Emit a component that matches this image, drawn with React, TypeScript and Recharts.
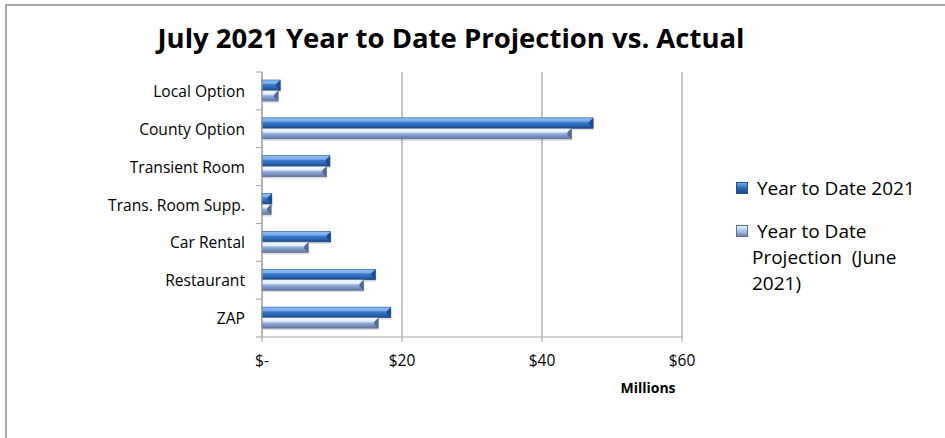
import React from "react";
import { Bar, BarChart, CartesianGrid, Legend, XAxis, YAxis } from "recharts";

const categories = [
  "Local Option",
  "County Option",
  "Transient Room",
  "Trans. Room Supp.",
  "Car Rental",
  "Restaurant",
  "ZAP",
];
const ytd2021 = [2.6, 47.3, 9.7, 1.4, 9.8, 16.2, 18.4];
const projectionJune = [2.3, 44.2, 9.2, 1.3, 6.6, 14.5, 16.6];
const xTicks = [0, 20, 40, 60];

const seriesNames = ["Year to Date 2021", "Year to Date Projection  (June 2021)"];
// legend text wraps like the Excel original
const legendLines = [[" Year to Date 2021"], [" Year to Date", "Projection  (June", "2021)"]];

const W = 945;
const H = 438;
const M = { top: 72, right: 263, bottom: 60, left: 0 };
const X_AXIS_H = 41;
const PLOT_H = H - M.top - M.bottom - X_AXIS_H;
const BAND = PLOT_H / categories.length;
const FONT = "'Open Sans', Lato, sans-serif";
const AXIS = "#a0a0a0";

const data = categories.map((name, i) => ({
  name,
  ytd: ytd2021[i],
  proj: projectionJune[i],
}));

function fmtMoney(v: number) {
  return v === 0 ? "$-" : `$${v}`;
}

function CategoryTick(props: any) {
  const { x, y, payload, index } = props;
  const axisX = x + 17;
  const last = index === categories.length - 1;
  return (
    <g>
      <text x={x} y={y} textAnchor="end" dominantBaseline="central" fontSize={15.6} fill="#000" fontFamily={FONT}>
        {payload.value}
      </text>
      <line x1={axisX - 6} x2={axisX} y1={y - BAND / 2} y2={y - BAND / 2} stroke={AXIS} />
      {last && <line x1={axisX - 6} x2={axisX} y1={y + BAND / 2} y2={y + BAND / 2} stroke={AXIS} />}
    </g>
  );
}

function bevelBar(edge: string, shine: string) {
  return (props: any) => {
    const { x, y, width, height, fill } = props;
    if (!width || width <= 0) return <g />;
    const c = Math.min(4, width / 2);
    return (
      <g>
        <rect x={x + 1} y={y + 2} width={width} height={height} fill="rgba(0,0,0,0.12)" />
        <rect x={x} y={y} width={width} height={height} fill={fill} />
        <polygon
          points={`${x + width - c},${y + c} ${x + width},${y} ${x + width},${y + height} ${x + width - c},${y + height - c}`}
          fill={edge}
        />
        <polygon points={`${x},${y} ${x + width},${y} ${x + width - c},${y + c} ${x},${y + c}`} fill={shine} opacity={0.55} />
        <rect x={x} y={y} width={width} height={height} fill="none" stroke={edge} strokeWidth={0.6} />
      </g>
    );
  };
}

function LegendBox() {
  const markers = [
    { bg: "linear-gradient(#6ea6ea, #2c63b0 55%, #1f4c8c)", border: "#214f8e" },
    { bg: "linear-gradient(#e2f2ff, #a9c5ec 50%, #6f86b6)", border: "#5b6f99" },
  ];
  return (
    <div style={{ fontFamily: FONT, fontSize: 19, color: "#000", lineHeight: "26px" }}>
      {seriesNames.map((name, i) => (
        <div key={name} title={name} style={{ position: "relative", height: legendLines[i].length * 26, marginBottom: 17 }}>
          <span
            style={{
              position: "absolute",
              left: 0,
              top: 7,
              width: 10,
              height: 10,
              background: markers[i].bg,
              border: `1px solid ${markers[i].border}`,
            }}
          />
          <div style={{ position: "absolute", left: 16, top: 0, whiteSpace: "pre" }}>
            {legendLines[i].map((ln) => (
              <div key={ln}>{ln}</div>
            ))}
          </div>
        </div>
      ))}
    </div>
  );
}

export default function App() {
  return (
    <div style={{ position: "absolute", left: 0, top: 0, width: W, height: H, background: "#fff", overflow: "hidden" }}>
      <div
        style={{
          position: "absolute",
          left: 5,
          top: 4,
          width: W,
          height: H,
          borderTop: "2px solid #a6a6a6",
          borderLeft: "2px solid #a6a6a6",
        }}
      />
      <div
        style={{
          position: "absolute",
          left: 0,
          top: 19,
          width: 902,
          textAlign: "center",
          fontFamily: FONT,
          fontWeight: 700,
          fontSize: 27.5,
          color: "#000",
        }}
      >
        July 2021 Year to Date Projection vs. Actual
      </div>
      <div style={{ position: "absolute", left: 0, top: 0 }}>
        <BarChart width={W} height={H} data={data} layout="vertical" margin={M} barGap={0} barSize={10.5}>
          <defs>
            <linearGradient id="ytdGrad" x1="0" y1="0" x2="0" y2="1">
              <stop offset="0%" stopColor="#7db3f0" />
              <stop offset="22%" stopColor="#4a89d8" />
              <stop offset="65%" stopColor="#2f6cbf" />
              <stop offset="100%" stopColor="#1c4784" />
            </linearGradient>
            <linearGradient id="projGrad" x1="0" y1="0" x2="0" y2="1">
              <stop offset="0%" stopColor="#eaf6ff" />
              <stop offset="35%" stopColor="#c2dcf8" />
              <stop offset="55%" stopColor="#8fa8d6" />
              <stop offset="100%" stopColor="#5f76a6" />
            </linearGradient>
          </defs>
          <CartesianGrid horizontal={false} stroke={AXIS} strokeWidth={1.2} />
          <XAxis
            type="number"
            domain={[0, 60]}
            ticks={xTicks}
            tickFormatter={fmtMoney}
            height={X_AXIS_H}
            stroke={AXIS}
            tickSize={5}
            tickMargin={13}
            tick={{ fill: "#000", fontSize: 15.5, fontFamily: FONT }}
            label={{
              value: "Millions",
              position: "bottom",
              offset: 5,
              dx: 176,
              style: { fill: "#000", fontSize: 14, fontWeight: 700, fontFamily: FONT },
            }}
          />
          <YAxis
            type="category"
            dataKey="name"
            width={262}
            stroke={AXIS}
            tickLine={false}
            tickSize={6}
            tickMargin={11}
            tick={<CategoryTick />}
            interval={0}
          />
          <Legend
            layout="vertical"
            align="center"
            verticalAlign="middle"
            wrapperStyle={{ left: 736, top: 175, width: 205 }}
            content={() => <LegendBox />}
          />
          <Bar dataKey="ytd" name={seriesNames[0]} fill="url(#ytdGrad)" shape={bevelBar("#1d4a8a", "#a9d2ff")} isAnimationActive={false} />
          <Bar dataKey="proj" name={seriesNames[1]} fill="url(#projGrad)" shape={bevelBar("#56698f", "#ffffff")} isAnimationActive={false} />
        </BarChart>
      </div>
    </div>
  );
}
